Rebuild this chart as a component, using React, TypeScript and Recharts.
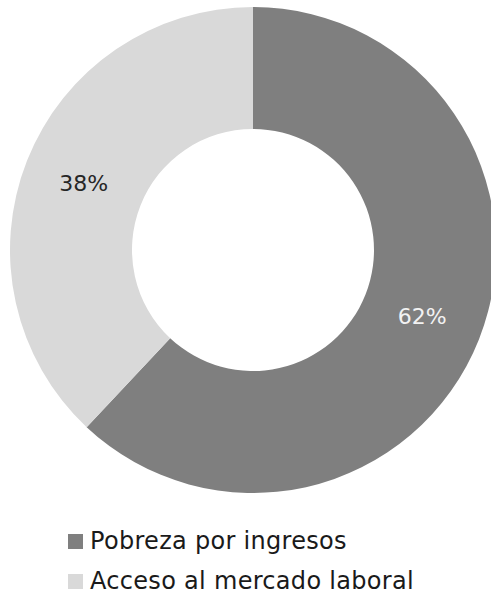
import React from 'react';
import { PieChart, Pie, Cell, Legend } from 'recharts';

const categories = ['Pobreza por ingresos', 'Acceso al mercado laboral'];
const shares = [62, 38];
const colors = ['#7f7f7f', '#d9d9d9'];
const labelColors = ['#f2f2f2', '#262626'];

const data = categories.map((name, i) => ({ name, value: shares[i] }));

const FONT = '"DejaVu Sans", sans-serif';
const RAD = Math.PI / 180;

const renderLabel = (props: any) => {
  const { cx, cy, midAngle, innerRadius, outerRadius, index, value } = props;
  const r = (innerRadius + outerRadius) / 2;
  const x = cx + r * Math.cos(-midAngle * RAD);
  const y = cy + r * Math.sin(-midAngle * RAD);
  return (
    <text
      x={x}
      y={y}
      fill={labelColors[index]}
      textAnchor="middle"
      dominantBaseline="central"
      fontFamily={FONT}
      fontSize={22}
    >
      {value}%
    </text>
  );
};

const renderLegend = () => (
  <div style={{ fontFamily: FONT, fontSize: 24, color: '#1a1a1a', lineHeight: '24px' }}>
    {categories.map((c, i) => (
      <div
        key={c}
        style={{ display: 'flex', alignItems: 'center', height: 24, marginBottom: i === 0 ? 16 : 0 }}
      >
        <span
          style={{ width: 15, height: 15, background: colors[i], marginRight: 7, display: 'inline-block' }}
        />
        <span style={{ letterSpacing: 0.3 }}>{c}</span>
      </div>
    ))}
  </div>
);

const App: React.FC = () => (
  <div style={{ position: 'absolute', left: 0, top: 0, background: '#fff' }}>
    <PieChart width={491} height={596} margin={{ top: 0, right: 0, bottom: 0, left: 0 }}>
      <Pie
        data={data}
        dataKey="value"
        nameKey="name"
        cx={253}
        cy={250}
        innerRadius={121}
        outerRadius={243}
        startAngle={90}
        endAngle={-270}
        stroke="none"
        label={renderLabel}
        labelLine={false}
        isAnimationActive={false}
      >
        {data.map((d, i) => (
          <Cell key={d.name} fill={colors[i]} />
        ))}
      </Pie>
      <Legend content={renderLegend} wrapperStyle={{ left: 68, top: 529, width: 423 }} />
    </PieChart>
  </div>
);

export default App;
